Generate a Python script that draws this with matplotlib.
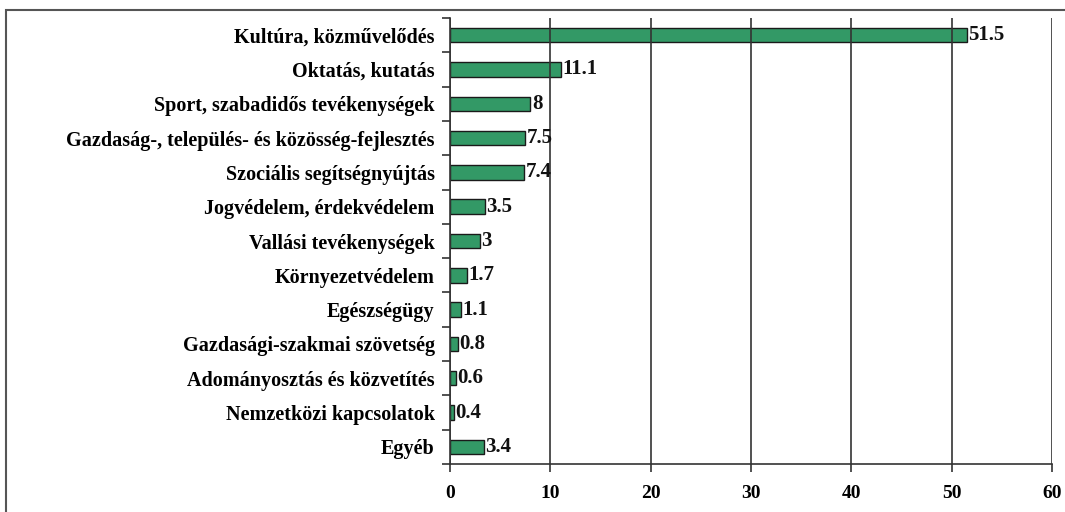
import matplotlib
matplotlib.use('Agg')
import matplotlib.pyplot as plt
from matplotlib.patches import Rectangle
import numpy as np

categories = ['Kultúra, közművelődés', 'Oktatás, kutatás', 'Sport, szabadidős tevékenységek',
              'Gazdaság-, település- és közösség-fejlesztés', 'Szociális segítségnyújtás',
              'Jogvédelem, érdekvédelem', 'Vallási tevékenységek', 'Környezetvédelem',
              'Egészségügy', 'Gazdasági-szakmai szövetség', 'Adományosztás és közvetítés',
              'Nemzetközi kapcsolatok', 'Egyéb']
values = [51.5, 11.1, 8, 7.5, 7.4, 3.5, 3, 1.7, 1.1, 0.8, 0.6, 0.4, 3.4]
value_labels = ['51.5', '11.1', '8', '7.5', '7.4', '3.5', '3', '1.7', '1.1', '0.8', '0.6', '0.4', '3.4']
xticks = [0, 10, 20, 30, 40, 50, 60]

plt.rcParams['font.family'] = ['Liberation Serif', 'DejaVu Serif']
plt.rcParams['font.weight'] = 'bold'

fig = plt.figure(figsize=(10.65, 5.12), dpi=100)
ax = fig.add_axes([450 / 1065, 1 - 464 / 512, 602 / 1065, 446 / 512])

# figure frame (cut off at right and bottom in the reference)
fig.patches.append(Rectangle((6 / 1065, -0.1), 1.2, 1 - 10 / 512 + 0.1, transform=fig.transFigure,
                             fill=False, edgecolor='#555555', linewidth=1.5))

y = np.arange(len(categories))
ax.barh(y, values, height=0.42, color='#339966', edgecolor='#1a1a1a', linewidth=1, zorder=2)
for yi, v, lab in zip(y, values, value_labels):
    ax.text(v + 0.15, yi, lab, va='center', ha='left', fontsize=15, fontweight='bold', color='#111111')

ax.set_xlim(0, 60)
ax.set_ylim(len(categories) - 0.5, -0.5)
ax.set_xticks(xticks)
ax.set_xticklabels([str(t) for t in xticks], fontsize=14, fontweight='bold')
ax.set_yticks(y)
ax.set_yticklabels(categories, fontsize=14.5, fontweight='bold')
ax.set_yticks(np.arange(-0.5, len(categories)), minor=True)
ax.tick_params(axis='y', which='major', length=0, pad=11)
ax.tick_params(axis='y', which='minor', length=6, width=1.2, color='#333333')
ax.tick_params(axis='x', length=6, width=1.2, color='#333333', pad=9)
ax.grid(axis='x', color='#333333', linewidth=1.2, zorder=3)
ax.set_axisbelow(False)
for s in ['top', 'right']:
    ax.spines[s].set_visible(False)
for s in ['left', 'bottom']:
    ax.spines[s].set_color('#333333')
    ax.spines[s].set_linewidth(1.2)

fig.savefig('out.png', dpi=100)
